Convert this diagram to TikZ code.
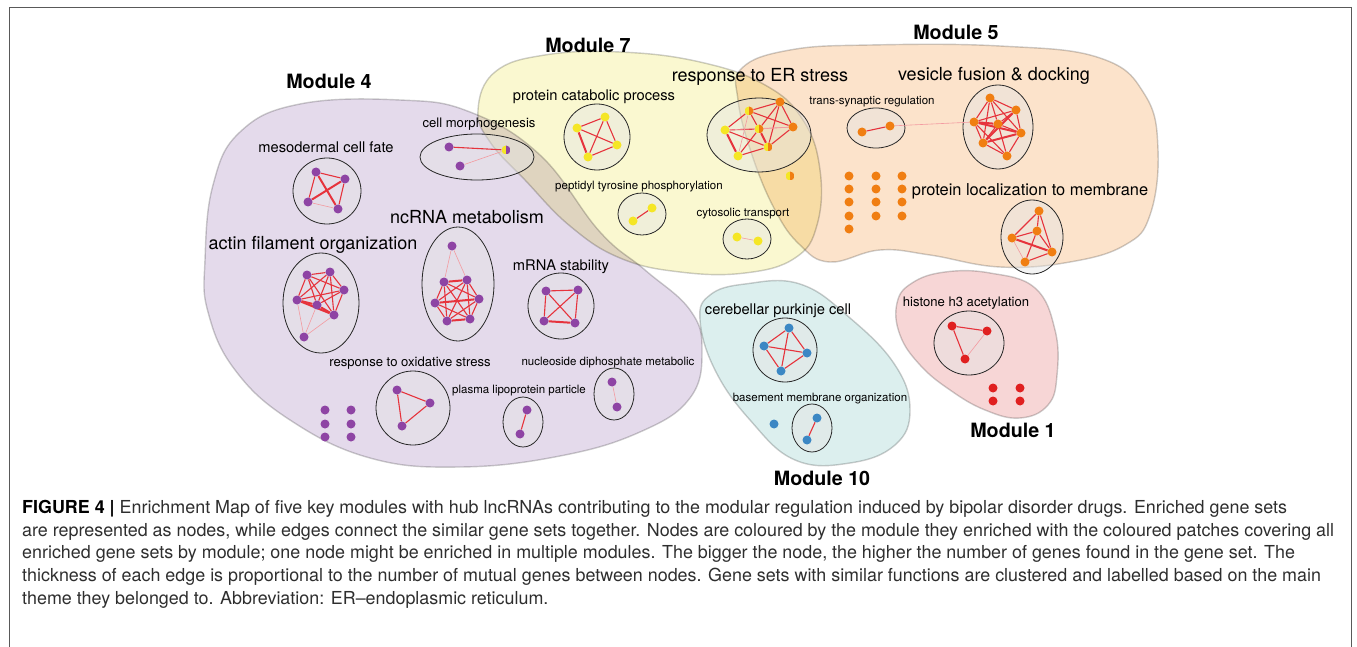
\documentclass[tikz,border=0pt]{standalone}
\usepackage{fontspec}
\setmainfont{TeX Gyre Heros}
\usepackage{tikz}
\definecolor{modfour}{HTML}{E4DAEB}
\definecolor{modseven}{HTML}{FAF8D0}
\definecolor{modfive}{HTML}{FCE3CB}
\definecolor{modone}{HTML}{F7D6D6}
\definecolor{modten}{HTML}{DCEFEE}
\definecolor{dotpurple}{HTML}{8E44A4}
\definecolor{dotyellow}{HTML}{F5E625}
\definecolor{dotorange}{HTML}{F07E12}
\definecolor{dotred}{HTML}{E02020}
\definecolor{dotblue}{HTML}{3C87C4}
\definecolor{edgered}{HTML}{E6333C}
\definecolor{edgepale}{HTML}{F39AA0}
\definecolor{patchline}{HTML}{CDCDCD}
\definecolor{captiongray}{HTML}{2E2E2E}
\pgfdeclarelayer{patches}
\pgfdeclarelayer{links}
\pgfsetlayers{patches,links,main}
\tikzset{
  modpatch/.style={draw=patchline,line width=1.4pt,blend mode=multiply},
  clusterring/.style={draw=black!85,line width=0.8pt,fill=black!10,fill opacity=0.45},
  gset/.style={circle,inner sep=0pt,minimum size=9pt,fill=#1},
  halfset/.style 2 args={circle,inner sep=0pt,minimum size=9pt,
    path picture={\fill[#1] (path picture bounding box.south west) rectangle (path picture bounding box.north);
      \fill[#2] (path picture bounding box.south) rectangle (path picture bounding box.north east);}},
  simedge/.style={draw=edgered,line width=1.1pt},
  strongedge/.style={draw=edgered,line width=2pt},
  weakedge/.style={draw=edgepale,line width=0.6pt},
  modlabel/.style={font=\fontsize{19.7}{22}\selectfont\bfseries,anchor=base,inner sep=0pt},
  biglabel/.style={font=\fontsize{18}{20}\selectfont,anchor=base,inner sep=0pt},
  midlabel/.style={font=\fontsize{14.7}{17}\selectfont,anchor=base,inner sep=0pt},
  smalllabel/.style={font=\fontsize{13.1}{15}\selectfont,anchor=base,inner sep=0pt},
  tinylabel/.style={font=\fontsize{11.5}{13}\selectfont,anchor=base,inner sep=0pt},
  captionline/.style={font=\fontsize{17.9}{22}\selectfont,text=captiongray,anchor=base west,inner sep=0pt},
  framerule/.style={draw=black!65,line width=1pt}
}
\begin{document}
\begin{tikzpicture}[x=1pt,y=-1pt]
  \useasboundingbox (0,0) rectangle (1357,647);
  \draw[framerule] (9,647) -- (9,8) -- (1351,8) -- (1351,647);

  \begin{pgfonlayer}{patches}
    \fill[modfour,modpatch] plot[smooth cycle,tension=0.7] coordinates {(205,260) (213,185) (240,132) (300,104) (400,100) (470,112) (540,155) (600,232) (645,270) (690,310) (702,350) (690,398) (640,432) (560,456) (460,467) (370,458) (290,420) (235,370) (208,312)};
    \fill[modseven,modpatch] plot[smooth cycle,tension=0.7] coordinates {(478,110) (495,72) (545,55) (620,52) (700,62) (765,85) (803,120) (820,170) (817,225) (795,258) (745,273) (680,272) (620,258) (570,226) (525,180) (490,142)};
    \fill[modfive,modpatch] plot[smooth cycle,tension=0.7] coordinates {(742,68) (790,50) (870,45) (1000,46) (1100,58) (1145,95) (1158,150) (1150,215) (1125,245) (1070,262) (1000,267) (930,255) (880,250) (830,262) (800,245) (775,210) (752,155) (738,100)};
    \fill[modone,modpatch] plot[smooth cycle,tension=0.7] coordinates {(897,303) (912,283) (945,272) (990,273) (1035,288) (1055,330) (1057,375) (1048,405) (1020,418) (985,410) (950,390) (920,365) (900,335)};
    \fill[modten,modpatch] plot[smooth cycle,tension=0.7] coordinates {(700,320) (710,295) (745,284) (800,284) (850,318) (895,365) (910,410) (895,445) (850,463) (795,460) (750,420) (715,370)};
    \foreach \cx/\cy/\rx/\ry in {327/191/34/33, 477/157/57/23, 321/303/38/50, 458/284/36/57,
        561/306/33/33, 413/408/37/37, 523/422/20/25, 614/394/20/26, 597/137/33/33,
        759/135/52/37, 642/214/24/21, 747/239/24/20, 998/127/35/42, 876/128/29/20,
        1032/237/31/37, 785/350/32/32, 812/428/20/24, 969/343/35/32}
      \draw[clusterring] (\cx,\cy) ellipse[x radius=\rx,y radius=\ry];
  \end{pgfonlayer}

  \node[modlabel] (mod4) at (329,89) {Module 4};
  \node[modlabel] (mod7) at (588,53) {Module 7};
  \node[modlabel] (mod5) at (956,40) {Module 5};
  \node[modlabel] (mod1) at (1013,437) {Module 1};
  \node[modlabel] (mod10) at (822,485) {Module 10};

  \node[biglabel] (labactin) at (313,249) {actin filament organization};
  \node[biglabel] (labncrna) at (467,223) {ncRNA metabolism};
  \node[biglabel] (laber) at (760,82) {response to ER stress};
  \node[biglabel] (labvesicle) at (994,81) {vesicle fusion \& docking};
  \node[biglabel,font=\fontsize{16.4}{19}\selectfont] (labloc) at (1030,196) {protein localization to membrane};
  \node[midlabel] (labmeso) at (326,153) {mesodermal cell fate};
  \node[midlabel] (labcatab) at (594,101) {protein catabolic process};
  \node[midlabel] (labmrna) at (561,270) {mRNA stability};
  \node[midlabel] (labpurk) at (778,314) {cerebellar purkinje cell};
  \node[smalllabel] (labmorph) at (479,128) {cell morphogenesis};
  \node[smalllabel] (laboxid) at (410,366) {response to oxidative stress};
  \node[smalllabel] (labhist) at (966,306) {histone h3 acetylation};
  \node[tinylabel] (labpept) at (639,190) {peptidyl tyrosine phosphorylation};
  \node[tinylabel] (labcyto) at (743,216) {cytosolic transport};
  \node[tinylabel] (labtrans) at (872,105) {trans-synaptic regulation};
  \node[tinylabel] (labplasma) at (519,393) {plasma lipoprotein particle};
  \node[tinylabel] (labnucl) at (608,365) {nucleoside diphosphate metabolic};
  \node[tinylabel] (labbase) at (820,401) {basement membrane organization};

  \foreach \n/\x/\y in {m1/316/172, m2/345/179, m3/308/202, m4/338/209,
      c1/449/147, c2/460/166,
      a1/307/275, a2/330/272, a3/344/290, a4/297/300, a5/317/305, a6/334/315, a7/304/337,
      n1/452/246, n2/444/282, n3/467/280, n4/435/303, n5/479/299, n6/447/321, n7/470/319,
      r1/546/291, r2/578/290, r3/544/321, r4/575/323,
      o1/397/390, o2/430/403, o3/402/426, p1/527/410, p2/520/434, d1/612/382, d2/617/407,
      w1/325/410, w2/351/410, w3/325/424, w4/351/424, w5/325/437, w6/351/437}
    \node[gset=dotpurple] (\n) at (\x,\y) {};
  \foreach \n/\x/\y in {k1/577/128, k2/605/117, k3/617/145, k4/588/157,
      e6/725/130, e7/738/156, t1/633/221, t2/652/208, y1/737/237, y2/758/241}
    \node[gset=dotyellow] (\n) at (\x,\y) {};
  \foreach \n/\x/\y in {e2/780/102, e3/793/127,
      v1/990/98, v2/1016/110, v3/974/122, v4/998/124, v5/1021/133, v6/983/143, v7/1007/156,
      q1/862/132, q2/890/126,
      l1/1039/211, l2/1037/231, l3/1012/238, l4/1052/252, l5/1025/262,
      g1/849/176, g2/849/189, g3/849/202, g4/849/216, g5/849/229,
      g6/876/176, g7/876/189, g8/876/202, g9/876/216,
      g10/902/176, g11/902/189, g12/902/202, g13/902/216}
    \node[gset=dotorange] (\n) at (\x,\y) {};
  \foreach \n/\x/\y in {e1/749/111, e4/759/129, e5/768/147, s1/790/176}
    \node[halfset={dotyellow}{dotorange}] (\n) at (\x,\y) {};
  \node[halfset={dotyellow}{dotpurple}] (c3) at (506,150) {};
  \foreach \n/\x/\y in {u1/789/328, u2/764/346, u3/807/353, u4/781/371,
      b0/774/424, b1/817/418, b2/807/440}
    \node[gset=dotblue] (\n) at (\x,\y) {};
  \foreach \n/\x/\y in {h1/952/326, h2/987/331, h3/965/359,
      h4/993/388, h5/1020/388, h6/993/401, h7/1020/401}
    \node[gset=dotred] (\n) at (\x,\y) {};

  \begin{pgfonlayer}{links}
    \foreach \a/\b in {m1/m2, m1/m3, m2/m4, c1/c3,
        a1/a2, a1/a3, a1/a4, a1/a5, a1/a6, a2/a3, a2/a4, a2/a5, a2/a6, a3/a4, a3/a5, a3/a6,
        n2/n4, n2/n5, n2/n6, n2/n7, n3/n4, n3/n5, n3/n6, n3/n7, n4/n6, n4/n7, n5/n6, n5/n7,
        r1/r2, r1/r3, r1/r4, r2/r3, r2/r4, o1/o2, o1/o3, o2/o3, p1/p2,
        k1/k2, k1/k3, k2/k3, k2/k4, k3/k4,
        e1/e2, e1/e3, e1/e4, e1/e6, e2/e4, e2/e5, e2/e3, e3/e5, e4/e6, e4/e7, e5/e6, e5/e7,
        t1/t2, v1/v2, v1/v3, v1/v4, v1/v5, v1/v6, v2/v3, v2/v4, v2/v5, v3/v6, v3/v7,
        v4/v5, v4/v6, v4/v7, v5/v7, v6/v7, q1/q2,
        l1/l2, l1/l3, l1/l4, l2/l3, l2/l4, l2/l5, l4/l5,
        u1/u2, u1/u3, u1/u4, u2/u3, u2/u4, u3/u4, b1/b2, h1/h2, h1/h3}
      \draw[simedge] (\a) -- (\b);
    \foreach \a/\b in {m1/m4, m2/m3, a4/a5, a4/a6, a5/a6, n2/n3, n4/n5, n6/n7, r3/r4, k1/k4,
        e6/e7, e4/e5, v2/v6, v3/v4, v3/v5, v5/v6, l3/l4}
      \draw[strongedge] (\a) -- (\b);
    \foreach \a/\b in {m3/m4, c2/c3, a4/a7, a5/a7, a6/a7, n1/n2, n1/n3, d1/d2, e1/e7, e3/e4, e3/e6,
        y1/y2, q2/v3, l3/l5, h2/h3}
      \draw[weakedge] (\a) -- (\b);
  \end{pgfonlayer}

  \node[captionline] (cap1) at (22,513.5) {\textcolor{black}{\bfseries FIGURE 4 |} Enrichment Map of five key modules with hub lncRNAs contributing to the modular regulation induced by bipolar disorder drugs. Enriched gene sets};
  \node[captionline] (cap2) at (22,536) {are represented as nodes, while edges connect the similar gene sets together. Nodes are coloured by the module they enriched with the coloured patches covering all};
  \node[captionline] (cap3) at (22,558.7) {enriched gene sets by module; one node might be enriched in multiple modules. The bigger the node, the higher the number of genes found in the gene set. The};
  \node[captionline] (cap4) at (22,581.4) {thickness of each edge is proportional to the number of mutual genes between nodes. Gene sets with similar functions are clustered and labelled based on the main};
  \node[captionline] (cap5) at (22,604.1) {theme they belonged to. Abbreviation: ER–endoplasmic reticulum.};
\end{tikzpicture}
\end{document}
